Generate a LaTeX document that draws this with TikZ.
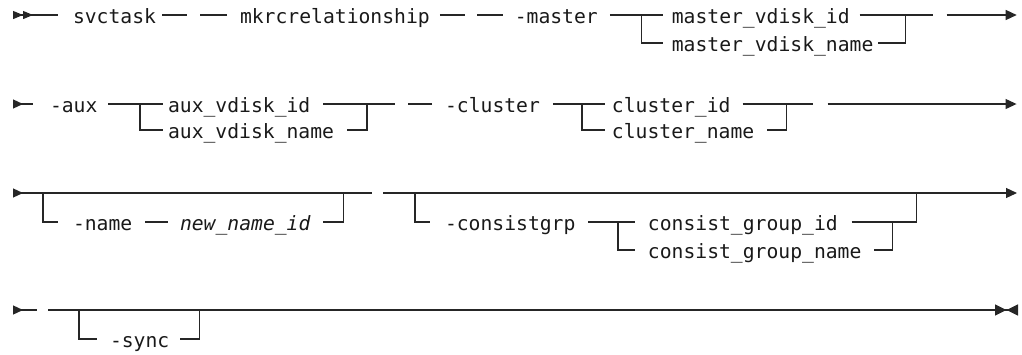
\documentclass[tikz,border=0pt]{standalone}
\usepackage{fontspec}
\newfontfamily\rrfont{DejaVu Sans Mono}
\usetikzlibrary{arrows.meta,positioning}

\begin{document}
\begin{tikzpicture}[x=1pt,y=-1pt,line width=1.2pt,color=black!85,
  kw/.style={font=\rrfont\fontsize{19.7pt}{22pt}\selectfont,text=black!90,inner sep=0pt,outer sep=0pt,
    text height=16pt,text depth=0pt,anchor=west},
  var/.style={kw,font=\rrfont\fontsize{19.7pt}{22pt}\selectfont\itshape},
  begin2/.style={{Triangle[reversed,length=10pt,width=8pt]Triangle[reversed,length=10pt,width=8pt]}-},
  begin1/.style={{Triangle[reversed,length=10pt,width=9pt]}-},
  tip/.style={-{Triangle[length=11pt,width=10pt]}},
  stop/.style={-{Triangle[length=11.5pt,width=11pt]Triangle[reversed,length=11.5pt,width=11pt]}}]
\useasboundingbox (0,0) rectangle (1022,354);

  \node[kw] (svctask) at (73,15) {svctask};
  \node[kw,right=84pt of svctask] (mkrc) {mkrcrelationship};
  \node[kw,right=85pt of mkrc] (master) {-master};
  \node[kw,right=74pt of master] (mvid) {master\_vdisk\_id};
  \node[kw] (mvname) at ([yshift=-28pt]mvid.west) {master\_vdisk\_name};

  \draw[begin2] ([xshift=-60pt]svctask.west) -- ++(45,0);
  \draw ([xshift=6pt]svctask.east) -- ++(25,0);
  \draw ([xshift=-13pt]mkrc.west) -- ++(-27,0);
  \draw ([xshift=10pt]mkrc.east) -- ++(25,0);
  \draw ([xshift=-12pt]master.west) -- ++(-26,0);
  \draw ([xshift=12pt]master.east) -- ([xshift=-9pt]mvid.west);
  \draw ([xshift=-30pt]mvid.west) |- ([xshift=-9pt]mvname.west);
  \draw ([xshift=10pt]mvid.east) -- ++(73,0);
  \draw ([xshift=5pt]mvname.east) -- ++(27,0) -- ++(0,-28);
  \draw[tip] ([xshift=97pt]mvid.east) -- ++(70,0);

  \node[kw] (aux) at (50,104) {-aux};
  \node[kw,right=70.6pt of aux] (avid) {aux\_vdisk\_id};
  \node[kw] (avname) at ([yshift=-26pt]avid.west) {aux\_vdisk\_name};
  \node[kw,right=134.7pt of avid] (cluster) {-cluster};
  \node[kw,right=72pt of cluster] (cid) {cluster\_id};
  \node[kw] (cname) at ([yshift=-26pt]cid.west) {cluster\_name};

  \draw[begin1] ([xshift=-37pt]aux.west) -- ++(20,0);
  \draw ([xshift=11pt]aux.east) -- ([xshift=-5pt]avid.west);
  \draw ([xshift=-28pt]avid.west) |- ([xshift=-5pt]avname.west);
  \draw ([xshift=13pt]avid.east) -- ++(72,0);
  \draw ([xshift=13pt]avname.east) -- ++(20,0) -- ++(0,-26);
  \draw ([xshift=-13pt]cluster.west) -- ++(-24,0);
  \draw ([xshift=13pt]cluster.east) -- ([xshift=-7pt]cid.west);
  \draw ([xshift=-30pt]cid.west) |- ([xshift=-7pt]cname.west);
  \draw ([xshift=12pt]cid.east) -- ++(70,0);
  \draw ([xshift=13pt]cname.east) -- ++(19,0) -- ++(0,-26);
  \draw[tip] ([xshift=97pt]cid.east) -- ++(189,0);

  \coordinate (row3) at (13,193);
  \node[kw] (name) at (73,222) {-name};
  \node[var,right=47.7pt of name] (newname) {new\_name\_id};
  \node[kw] (consist) at (445,222) {-consistgrp};
  \node[kw,right=72.5pt of consist] (cgid) {consist\_group\_id};
  \node[kw] (cgname) at ([yshift=-28pt]cgid.west) {consist\_group\_name};

  \draw[begin1] (row3) -- ++(359,0);
  \draw ([xshift=30pt]row3) |- ([xshift=-15pt]name.west);
  \draw ([xshift=13pt]name.east) -- ++(23,0);
  \draw ([xshift=13pt]newname.east) -- ++(20,0) -- ++(0,-29);
  \draw[tip] ([xshift=370pt]row3) -- ++(634,0);
  \draw ([xshift=402pt]row3) |- ([xshift=-15pt]consist.west);
  \draw ([xshift=13pt]consist.east) -- ([xshift=-13pt]cgid.west);
  \draw ([xshift=-30pt]cgid.west) |- ([xshift=-13pt]cgname.west);
  \draw ([xshift=14pt]cgid.east) -- ++(65,0) -- ++(0,-29);
  \draw ([xshift=13pt]cgname.east) -- ++(18,0) -- ++(0,-28);

  \coordinate (row4) at (13,310);
  \node[kw] (sync) at (110,339) {-sync};

  \draw[begin1] (row4) -- ++(24,0);
  \draw[stop] ([xshift=35pt]row4) -- ++(970,0);
  \draw ([xshift=66pt]row4) |- ([xshift=-13pt]sync.west);
  \draw ([xshift=11pt]sync.east) -- ++(19,0) -- ++(0,-29);
  \draw[line width=2pt] ([xshift=192pt]row4) -- ++(23,0);

\end{tikzpicture}
\end{document}
